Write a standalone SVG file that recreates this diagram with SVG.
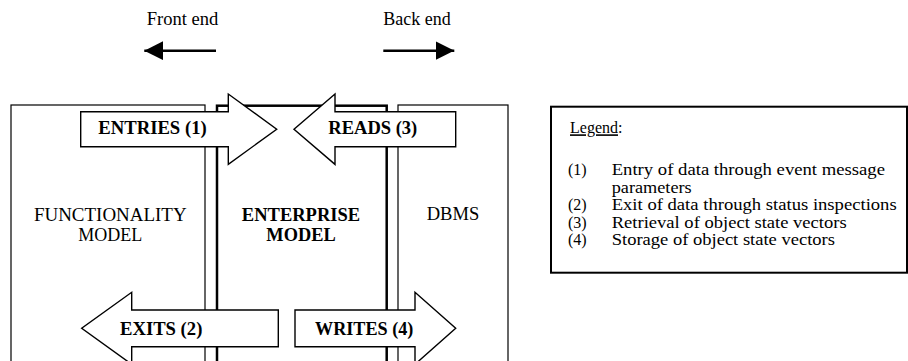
<svg xmlns="http://www.w3.org/2000/svg" width="908" height="361" viewBox="0 0 908 361">
<defs>
<style>
text{font-family:"Liberation Serif","Times New Roman",serif;font-size:18px;fill:#000}
.b{font-weight:bold}
.l{font-size:16px}
.box{fill:#fff;stroke:#000;stroke-width:1.2}
.ent{fill:#fff;stroke:#000;stroke-width:2.5}
.blk{fill:#fff;stroke:#000;stroke-width:1.4;stroke-linejoin:miter}
.leg{fill:#fff;stroke:#000;stroke-width:2}
.ln{stroke:#000;stroke-width:2.5;fill:none}
</style>
<marker id="ah" viewBox="0 0 10 10" refX="10" refY="5" markerWidth="7.5" markerHeight="7.5" markerUnits="strokeWidth" orient="auto">
<path d="M0,0 L10,5 L0,10 z" fill="#000"/>
</marker>
</defs>
<rect width="908" height="361" fill="#fff"/>

<g id="front-end">
<text x="182.5" y="25" text-anchor="middle" textLength="71.6" lengthAdjust="spacingAndGlyphs">Front end</text>
</g>
<g id="back-end">
<text x="417" y="25" text-anchor="middle" textLength="67.4" lengthAdjust="spacingAndGlyphs">Back end</text>
</g>

<g id="functionality-model">
<rect class="box" x="11" y="105" width="194" height="280"/>
<text x="110.3" y="221" text-anchor="middle" textLength="152.7" lengthAdjust="spacingAndGlyphs">FUNCTIONALITY</text>
<text x="110.3" y="241" text-anchor="middle">MODEL</text>
</g>
<g id="dbms">
<rect class="box" x="398" y="105" width="110" height="280"/>
<text x="453" y="220" text-anchor="middle" textLength="52.6" lengthAdjust="spacingAndGlyphs">DBMS</text>
</g>
<g id="enterprise-model">
<rect class="ent" x="217" y="105.7" width="169.7" height="280"/>
<text class="b" x="301" y="221" text-anchor="middle" textLength="118.3" lengthAdjust="spacingAndGlyphs">ENTERPRISE</text>
<text class="b" x="301" y="241" text-anchor="middle" textLength="69.3" lengthAdjust="spacingAndGlyphs">MODEL</text>
</g>

<g id="entries">
<polygon class="blk" points="80.7,111.7 228.3,111.7 228.3,94 276.7,129.2 228.3,164.4 228.3,146.7 80.7,146.7"/>
<text class="b" x="152.5" y="134" text-anchor="middle" textLength="108.4" lengthAdjust="spacingAndGlyphs">ENTRIES (1)</text>
</g>
<g id="reads">
<polygon class="blk" points="455.7,111.7 335,111.7 335,94 294,129.2 335,164.4 335,146.7 455.7,146.7"/>
<text class="b" x="372.8" y="134" text-anchor="middle" textLength="89" lengthAdjust="spacingAndGlyphs">READS (3)</text>
</g>
<g id="exits">
<polygon class="blk" points="278.3,310 131.7,310 131.7,292.3 81.7,328.3 131.7,364.3 131.7,346.7 278.3,346.7"/>
<text class="b" x="161.2" y="335" text-anchor="middle" textLength="82.3" lengthAdjust="spacingAndGlyphs">EXITS (2)</text>
</g>
<g id="writes">
<polygon class="blk" points="295,310 415,310 415,292.3 455.7,328.3 415,364.3 415,346.7 295,346.7"/>
<text class="b" x="364.2" y="335" text-anchor="middle" textLength="98.3" lengthAdjust="spacingAndGlyphs">WRITES (4)</text>
</g>

<g id="connectors">
<line class="ln" x1="216" y1="50.7" x2="144.3" y2="50.7" marker-end="url(#ah)"/>
<line class="ln" x1="383.3" y1="50.7" x2="454.3" y2="50.7" marker-end="url(#ah)"/>
</g>

<g id="legend">
<rect class="leg" x="551" y="106.7" width="356" height="166"/>
<text class="l" x="570" y="133.3"><tspan text-decoration="underline">Legend</tspan>:</text>
<text class="l" x="568" y="175">(1)</text>
<text class="l" x="611.7" y="175" textLength="273.3" lengthAdjust="spacingAndGlyphs">Entry of data through event message</text>
<text class="l" x="611.7" y="192.5" textLength="80" lengthAdjust="spacingAndGlyphs">parameters</text>
<text class="l" x="568" y="210">(2)</text>
<text class="l" x="611.7" y="210" textLength="285" lengthAdjust="spacingAndGlyphs">Exit of data through status inspections</text>
<text class="l" x="568" y="227.5">(3)</text>
<text class="l" x="611.7" y="227.5" textLength="235" lengthAdjust="spacingAndGlyphs">Retrieval of object state vectors</text>
<text class="l" x="568" y="245">(4)</text>
<text class="l" x="611.7" y="245" textLength="223.3" lengthAdjust="spacingAndGlyphs">Storage of object state vectors</text>
</g>
</svg>
